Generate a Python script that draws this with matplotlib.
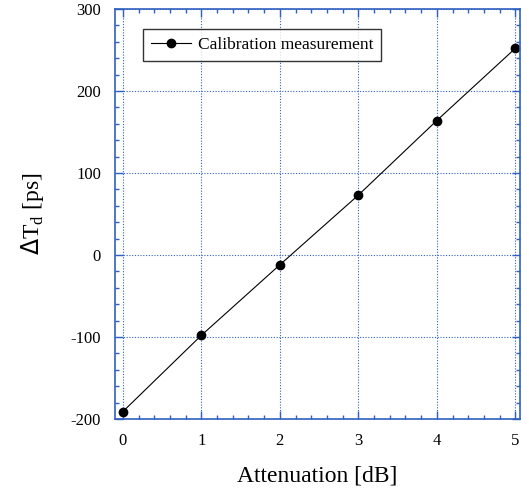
import matplotlib
matplotlib.use("Agg")
import matplotlib.pyplot as plt
from matplotlib.ticker import MultipleLocator

plt.rcParams['font.family'] = ['Liberation Serif', 'DejaVu Serif']
plt.rcParams['axes.unicode_minus'] = False

attenuation = [0, 1, 2, 3, 4, 5]
delta_td = [-191, -98, -12, 73, 164, 252]

blue = '#3060c0'

fig = plt.figure(figsize=(5.29, 4.96), dpi=100)
ax = fig.add_axes([115 / 529, 77 / 496, 405 / 529, 410 / 496])

ax.plot(attenuation, delta_td, color='black', linewidth=0.8, marker='o',
        markersize=6, label='Calibration measurement')

ax.set_xlim(-0.1, 5.06)
ax.set_ylim(-200, 300)
ax.xaxis.set_major_locator(MultipleLocator(1))
ax.xaxis.set_minor_locator(MultipleLocator(0.2))
ax.yaxis.set_major_locator(MultipleLocator(100))
ax.yaxis.set_minor_locator(MultipleLocator(20))

for s in ax.spines.values():
    s.set_color(blue)
    s.set_linewidth(1.2)
ax.tick_params(which='both', direction='in', top=True, right=True, color=blue,
               labelsize=12, labelcolor='black')
ax.tick_params(which='major', length=6, width=1)
ax.tick_params(which='minor', length=3, width=1)
ax.tick_params(axis='x', pad=10)
ax.tick_params(axis='y', pad=10)
ax.grid(True, which='major', color=blue, linestyle=(0, (1, 1.5)), linewidth=0.8)

ax.set_xlabel('Attenuation [dB]', fontsize=17, labelpad=12)
ax.set_ylabel(r'$\Delta$T$_{\mathregular{d}}$ [ps]', fontsize=17, labelpad=18)

leg = ax.legend(loc='upper left', bbox_to_anchor=(0.07, 0.95), fontsize=12.5,
                frameon=True, fancybox=False, edgecolor='black',
                borderpad=0.45, handlelength=2.3, handletextpad=0.4,
                borderaxespad=0)
leg.get_frame().set_linewidth(1.0)

fig.savefig('out.png', dpi=100)
